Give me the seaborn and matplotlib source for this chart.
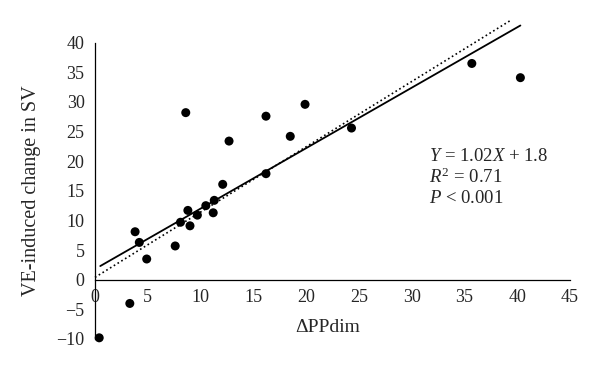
import numpy as np
import pandas as pd
import seaborn as sns
import matplotlib
matplotlib.use("Agg")
import matplotlib.pyplot as plt

# values
dpp_dim = [0.4, 3.3, 3.8, 4.2, 4.9, 7.6, 8.1, 8.6, 8.8, 9.0, 9.7, 10.5, 11.2,
           11.3, 12.1, 12.7, 16.2, 16.2, 18.5, 19.9, 24.3, 35.7, 40.3]
sv_change = [-9.8, -4.0, 8.1, 6.3, 3.5, 5.7, 9.7, 28.2, 11.7, 9.1, 10.9, 12.5, 11.3,
             13.4, 16.1, 23.4, 27.6, 17.9, 24.2, 29.6, 25.6, 36.5, 34.1]

fit_slope, fit_intercept = 1.02, 1.8
fit_x_range = [0.5, 40.3]
dotted_x = [0.0, 39.4]
dotted_y = [0.4, 43.8]

x_ticks = [0, 5, 10, 15, 20, 25, 30, 35, 40, 45]
y_ticks = [-10, -5, 0, 5, 10, 15, 20, 25, 30, 35, 40]

df = pd.DataFrame({"dpp": dpp_dim, "sv": sv_change})
fit_x = np.array(fit_x_range)
fit_df = pd.DataFrame({"x": fit_x, "y": fit_slope * fit_x + fit_intercept})
dot_df = pd.DataFrame({"x": dotted_x, "y": dotted_y})

sns.set_style("white")
plt.rcParams["font.family"] = ["Liberation Serif", "DejaVu Serif"]
plt.rcParams["mathtext.fontset"] = "custom"
plt.rcParams["mathtext.rm"] = "Liberation Serif"
plt.rcParams["mathtext.it"] = "Liberation Serif:italic"

fig = plt.figure(figsize=(6, 3.8), dpi=100)
ax = fig.add_axes([0.1583, 0.1079, 0.7917, 0.7797])

sns.lineplot(data=dot_df, x="x", y="y", ax=ax, color="black", lw=1.2, linestyle=":")
sns.lineplot(data=fit_df, x="x", y="y", ax=ax, color="black", lw=1.3)
for ln in ax.lines:
    ln.set_clip_on(False)
sns.scatterplot(data=df, x="dpp", y="sv", ax=ax, color="black", s=42,
                edgecolor="none", clip_on=False, zorder=5)

ax.set_xlim(0, 45)
ax.set_ylim(-10, 40)
ax.set_xticks(x_ticks)
ax.set_yticks(y_ticks)
ax.set_yticklabels([f"\u2212{abs(v)}" if v < 0 else str(v) for v in y_ticks])

for s in ["top", "right"]:
    ax.spines[s].set_visible(False)
ax.spines["bottom"].set_position(("data", 0))
for s in ["left", "bottom"]:
    ax.spines[s].set_linewidth(0.9)
    ax.spines[s].set_color("black")

ax.tick_params(axis="x", direction="in", length=4, width=0.9, pad=7, labelsize=13)
ax.tick_params(axis="y", direction="out", length=4, width=0.9, pad=3.5, labelsize=13)

ax.set_xlabel("\u0394PPdim", fontsize=14)
ax.xaxis.set_label_coords(0.49, 0.066)
ax.set_ylabel("VE-induced change in SV", fontsize=14.5)
ax.yaxis.set_label_coords(-0.114, 0.5)

ax.text(31.6, 20.0, r"$Y$ = 1.02$X$ + 1.8", fontsize=13.5, va="baseline")
ax.text(31.6, 16.4, r"$R^2$ = 0.71", fontsize=13.5, va="baseline")
ax.text(31.6, 12.9, r"$P$ < 0.001", fontsize=13.5, va="baseline")

fig.savefig("out.png", dpi=100)
